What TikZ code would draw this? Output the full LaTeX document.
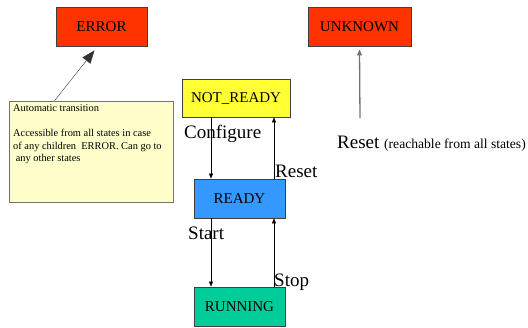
\documentclass[tikz,border=0pt]{standalone}
\usepackage{fontspec}
\setmainfont{Liberation Serif}
\usetikzlibrary{arrows.meta}

\definecolor{errorred}{HTML}{FF3300}
\definecolor{notreadyyellow}{HTML}{FFFF33}
\definecolor{readyblue}{HTML}{3399FF}
\definecolor{runninggreen}{HTML}{00CC99}
\definecolor{noteyellow}{HTML}{FFFFCC}

\tikzset{
  state/.style={draw=black!75, line width=0.8pt, minimum width=#1, minimum height=39pt,
    inner sep=0pt, font=\fontsize{15}{18}\selectfont},
  trans/.style={thin, -{Triangle[length=5pt,width=4pt]}},
  translabel/.style={inner sep=0pt, anchor=base west, font=\fontsize{19}{22}\selectfont},
}

\begin{document}
\begin{tikzpicture}[x=1pt, y=-1pt]
\useasboundingbox (0,0) rectangle (528,327);

% states
\node[state=91pt, fill=errorred] (error) at (101.5,26.5) {ERROR};
\node[state=103pt, fill=errorred] (unknown) at (359.5,26.5) {UNKNOWN};
\node[state=108pt, minimum height=38pt, fill=notreadyyellow] (notready) at (236,98) {NOT\_READY};
\node[state=91pt, fill=readyblue] (ready) at (239.5,198.5) {READY};
\node[state=91pt, fill=runninggreen] (running) at (239.5,306.5) {RUNNING};

% note about ERROR
\node[draw=black!55, line width=0.8pt, fill=noteyellow, minimum width=164pt, minimum height=101pt] (note) at (91,151.5) {};
\node[inner sep=0pt, anchor=north west, align=left, font=\fontsize{10.4}{12.5}\selectfont] (notetext) at (13,104.5)
  {Automatic transition\\[12.5pt]Accessible from all states in case\\of any children\ \ ERROR. Can go to\\\ any other states};
\draw[black!80, thin, -{Triangle[length=13pt,width=10pt]}] ([xshift=46pt]note.north west) -- ([xshift=-7pt,yshift=-4pt]error.south);

% transitions
\coordinate (downx) at (211,0);
\coordinate (upx) at (274,0);
\draw[trans] (notready.south -| downx) -- (ready.north -| downx);
\draw[trans] (ready.north -| upx) -- (notready.south -| upx);
\draw[trans] (ready.south -| downx) -- (running.north -| downx);
\draw[trans] (running.north -| upx) -- (ready.south -| upx);

\node[translabel] (configure) at (184,138) {Configure};
\node[translabel] (resetlabel) at (275,177) {Reset};
\node[translabel] (start) at (188,239) {Start};
\node[translabel] (stop) at (274,286) {Stop};

% reset to UNKNOWN
\coordinate (resetfoot) at (360,118);
\draw[black!55, line width=1.3pt, -{Triangle[length=6pt,width=5pt]}] (resetfoot) -- ([yshift=-3pt]unknown.south);
\node[translabel] (resetall) at (337,148) {Reset {\fontsize{13.6}{16}\selectfont(reachable from all states)}};
\end{tikzpicture}
\end{document}
